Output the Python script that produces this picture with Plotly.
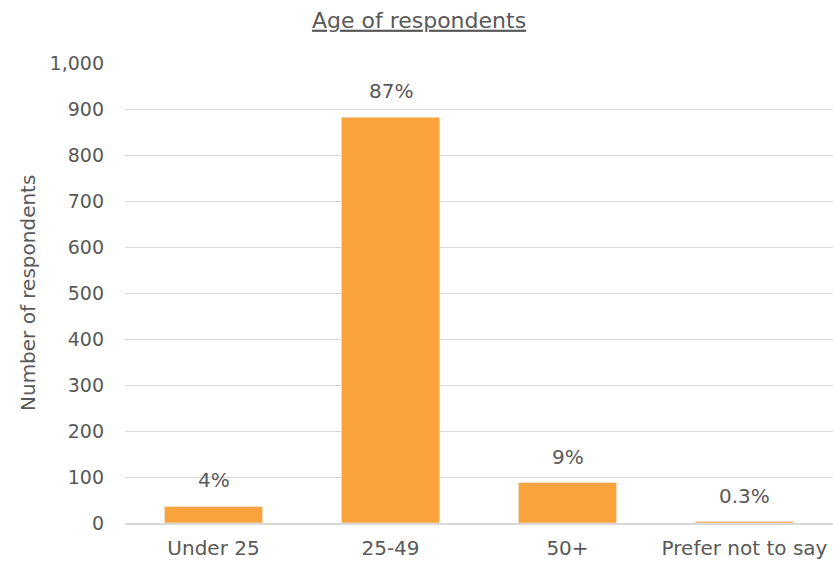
import plotly.graph_objects as go

categories = ["Under 25", "25-49", "50+", "Prefer not to say"]
respondents = [36, 882, 88, 3]
pct_labels = ["4%", "87%", "9%", "0.3%"]
y_ticks = [0, 100, 200, 300, 400, 500, 600, 700, 800, 900, 1000]

BAR = "#FBA43D"
TXT = "#595959"
FONT = "DejaVu Sans"

fig = go.Figure(go.Bar(
    x=categories, y=respondents, marker_color=BAR, width=0.555,
    hoverinfo="skip",
))

for c, v, t in zip(categories, respondents, pct_labels):
    fig.add_annotation(x=c, y=v, text=t, showarrow=False, yanchor="bottom",
                       yshift=12, font=dict(family=FONT, size=20, color=TXT))

fig.add_annotation(xref="paper", yref="paper", x=(28 - 125) / 708, y=0.5,
                   text="Number of respondents", textangle=-90, showarrow=False,
                   xanchor="center", yanchor="middle",
                   font=dict(family=FONT, size=20, color=TXT))

fig.update_layout(
    width=833, height=565,
    margin=dict(l=125, r=0, t=63, b=42),
    paper_bgcolor="white", plot_bgcolor="white",
    showlegend=False,
    title=dict(text="<u>Age of respondents</u>", x=419 / 833, xanchor="center",
               y=1 - 20 / 565, yanchor="middle", yref="container",
               font=dict(family=FONT, size=22, color=TXT)),
    xaxis=dict(range=[-0.5, 3.5], showgrid=False, ticks="",
               showline=True, linecolor="#D9D9D9", linewidth=2,
               tickfont=dict(family=FONT, size=20, color=TXT),
               ticklabelstandoff=6),
    yaxis=dict(range=[0, 1000], tickvals=y_ticks, tickformat=",",
               showgrid=True, gridcolor="#D9D9D9", gridwidth=1,
               zeroline=False, showline=False, ticks="",
               tickfont=dict(family=FONT, size=19, color=TXT),
               ticklabelstandoff=20),
    bargap=0.445,
)

fig.write_html("out.html", config={"displayModeBar": False})
